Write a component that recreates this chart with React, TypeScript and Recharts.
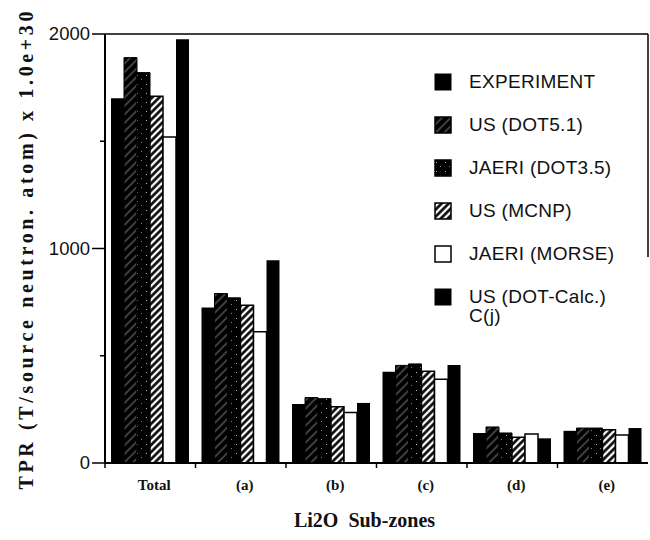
import React from 'react'
import { BarChart, Bar, XAxis, YAxis, Legend, ReferenceLine } from 'recharts'

// Tritium production rate per Li2O sub-zone
const categories = ['Total', '(a)', '(b)', '(c)', '(d)', '(e)']
const experiment = [1700, 725, 275, 425, 140, 150]
const usDot51 = [1890, 790, 305, 455, 168, 163]
const jaeriDot35 = [1820, 770, 300, 462, 140, 163]
const usMcnp = [1710, 735, 262, 428, 120, 155]
const jaeriMorse = [1520, 612, 235, 390, 135, 130]
const usDotCalc = [1975, 945, 280, 457, 115, 163]

const yTicks = [0, 500, 1000, 1500, 2000]

const data = categories.map((zone, i) => ({
  zone,
  experiment: experiment[i],
  usDot51: usDot51[i],
  jaeriDot35: jaeriDot35[i],
  usMcnp: usMcnp[i],
  jaeriMorse: jaeriMorse[i],
  usDotCalc: usDotCalc[i],
}))

const series = [
  { key: 'experiment', name: 'EXPERIMENT', fill: '#000', stroke: 'none', sw: 0 },
  { key: 'usDot51', name: 'US (DOT5.1)', fill: 'url(#hatchDense)', stroke: '#000', sw: 1 },
  { key: 'jaeriDot35', name: 'JAERI (DOT3.5)', fill: 'url(#stipple)', stroke: '#000', sw: 1 },
  { key: 'usMcnp', name: 'US (MCNP)', fill: 'url(#hatchOpen)', stroke: '#000', sw: 1.5 },
  { key: 'jaeriMorse', name: 'JAERI (MORSE)', fill: '#fff', stroke: '#000', sw: 1.5 },
  { key: 'usDotCalc', name: 'US (DOT-Calc.)', fill: '#000', stroke: 'none', sw: 0 },
]

const SANS = '"Liberation Sans", Arial, Helvetica, sans-serif'
const SERIF = '"Liberation Serif", "Times New Roman", serif'

const YTick = (props: any) => {
  const { x, y, payload } = props
  const major = payload.value % 1000 === 0
  return (
    <g>
      <line x1={x - (major ? 13 : 5)} x2={x} y1={y} y2={y} stroke="#000" strokeWidth={1.5} />
      {major && (
        <text x={x - 15} y={y} dy={6} textAnchor="end" fontFamily={SANS} fontSize={18.5} fill="#111">
          {payload.value}
        </text>
      )}
    </g>
  )
}

// ticks sit on the band boundaries, labels on the band centres
const XTick = (props: any) => {
  const { x, y, payload } = props
  const half = payload.offset ?? 45
  return (
    <g>
      <line x1={x - half} x2={x - half} y1={y} y2={y + 5} stroke="#000" strokeWidth={1.5} />
      <text x={x + 4} y={y + 27} textAnchor="middle" fontFamily={SERIF} fontSize={15} fontWeight={600} fill="#111">
        {payload.value}
      </text>
    </g>
  )
}

const YTitle = (props: any) => {
  const { viewBox } = props
  const cx = viewBox.x - 9
  const cy = viewBox.y + viewBox.height / 2 + 2
  return (
    <text
      x={cx}
      y={cy}
      transform={`rotate(-90, ${cx}, ${cy})`}
      textAnchor="middle"
      dominantBaseline="central"
      fontFamily={SERIF}
      fontWeight="bold"
      fontSize={20}
      textLength={478}
      lengthAdjust="spacing"
      fill="#111"
    >
      TPR (T/source neutron. atom) x 1.0e+30
    </text>
  )
}

const XTitle = (props: any) => {
  const { viewBox } = props
  return (
    <text
      x={viewBox.x + viewBox.width / 2 - 12}
      y={viewBox.y + 64}
      textAnchor="middle"
      fontFamily={SERIF}
      fontWeight="bold"
      fontSize={20}
      fill="#111"
    >
      {'Li2O\u00a0 Sub-zones'}
    </text>
  )
}

const Swatch = ({ fill, stroke, sw }: { fill: string; stroke: string; sw: number }) => (
  <svg width={18} height={18} style={{ display: 'block' }}>
    <rect
      x={1}
      y={1}
      width={16}
      height={16}
      fill={fill}
      stroke={stroke === 'none' ? '#000' : stroke}
      strokeWidth={stroke === 'none' ? 1 : Math.max(sw, 1.5)}
    />
  </svg>
)

const LegendBox = () => (
  <div style={{ fontFamily: SANS, fontSize: 19, color: '#111', letterSpacing: 0.3 }}>
    {series.map((s, i) => (
      <div key={s.key} style={{ display: 'flex', alignItems: 'flex-start', height: 43 }}>
        <div style={{ marginTop: 12.5, width: 18 }}>
          <Swatch fill={s.fill} stroke={s.stroke} sw={s.sw} />
        </div>
        <div style={{ marginTop: 12, marginLeft: 17, lineHeight: '19px' }}>
          {s.name}
          {i === series.length - 1 && <div>C(j)</div>}
        </div>
      </div>
    ))}
  </div>
)

export default function App() {
  return (
    <div style={{ position: 'absolute', left: 0, top: 0, background: '#fff' }}>
      <BarChart
        width={650}
        height={540}
        data={data}
        margin={{ top: 34, right: 2, bottom: 37, left: 35 }}
        barGap={0}
        barCategoryGap={6}
      >
        <defs>
          <pattern id="hatchDense" width={6} height={6} patternUnits="userSpaceOnUse" patternTransform="rotate(45)">
            <rect width={6} height={6} fill="#000" />
            <line x1={1} y1={0} x2={1} y2={6} stroke="#fff" strokeWidth={0.7} strokeOpacity={0.7} />
          </pattern>
          <pattern id="stipple" width={9} height={9} patternUnits="userSpaceOnUse">
            <rect width={9} height={9} fill="#000" />
            <rect x={2} y={3} width={1} height={1} fill="#fff" fillOpacity={0.75} />
            <rect x={6} y={7} width={1} height={1} fill="#fff" fillOpacity={0.5} />
          </pattern>
          <pattern id="hatchOpen" width={5} height={5} patternUnits="userSpaceOnUse" patternTransform="rotate(45)">
            <rect width={5} height={5} fill="#fff" />
            <line x1={1.5} y1={0} x2={1.5} y2={5} stroke="#000" strokeWidth={2.6} />
          </pattern>
        </defs>
        <XAxis
          dataKey="zone"
          interval={0}
          height={40}
          tickLine={false}
          tickSize={0}
          tickMargin={0}
          axisLine={{ stroke: '#000', strokeWidth: 2 }}
          tick={<XTick />}
          label={<XTitle />}
        />
        <YAxis
          width={70}
          domain={[0, 2000]}
          ticks={yTicks}
          tickLine={false}
          tickSize={0}
          tickMargin={0}
          axisLine={{ stroke: '#000', strokeWidth: 2 }}
          tick={<YTick />}
          label={<YTitle />}
        />
        <ReferenceLine y={2000} stroke="#000" strokeWidth={1.5} />
        <ReferenceLine
          segment={[
            { x: '(e)', y: 2000 },
            { x: '(e)', y: 960 },
          ]}
          position="end"
          stroke="#000"
          strokeWidth={1.5}
        />
        <Legend
          layout="vertical"
          align="center"
          verticalAlign="middle"
          content={<LegendBox />}
          wrapperStyle={{ left: 434, top: 60, width: 215 }}
        />
        {series.map((s) => (
          <Bar
            key={s.key}
            dataKey={s.key}
            name={s.name}
            fill={s.fill}
            stroke={s.stroke}
            strokeWidth={s.sw}
            isAnimationActive={false}
          />
        ))}
      </BarChart>
    </div>
  )
}
